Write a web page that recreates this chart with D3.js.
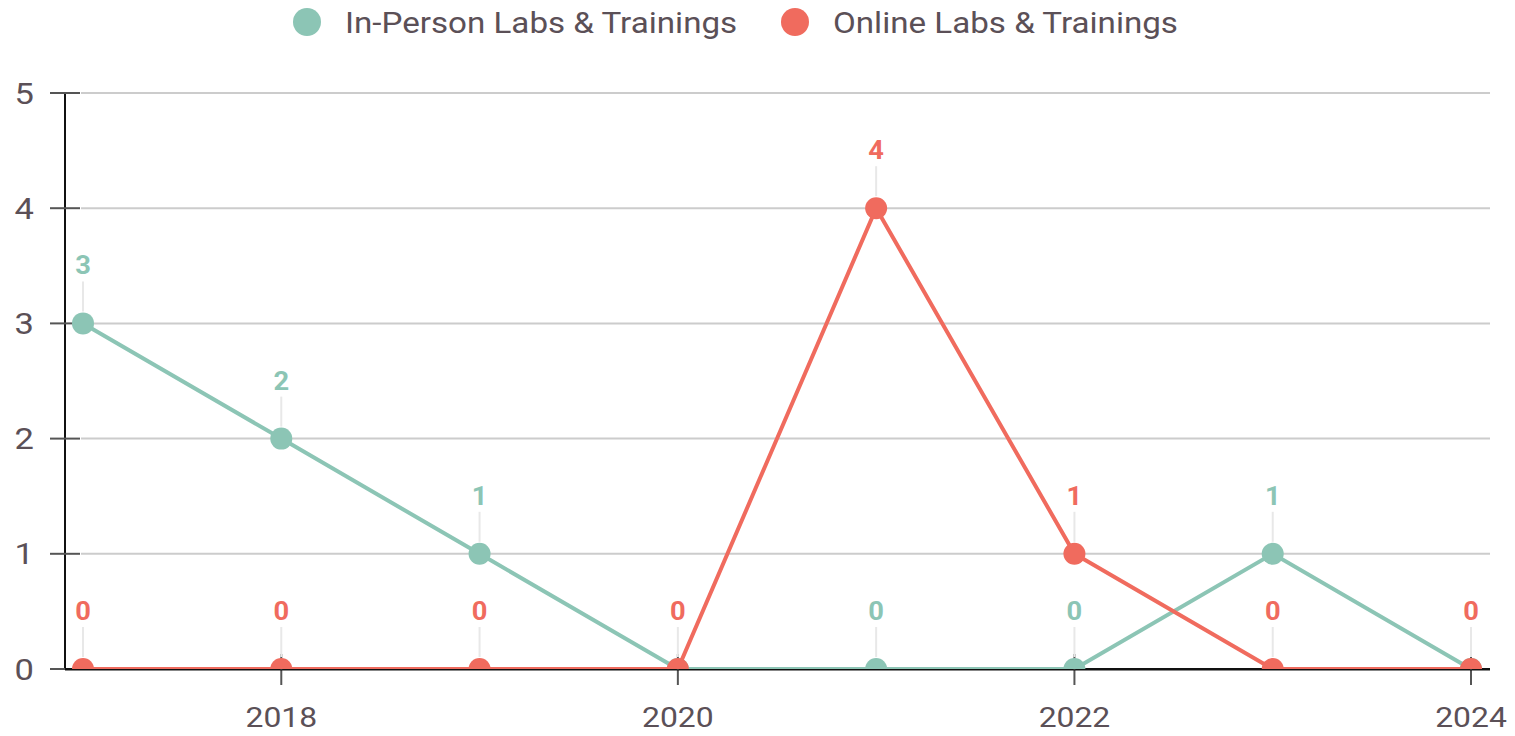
<!DOCTYPE html>
<html lang="en">
<head>
    <meta charset="UTF-8">
    <title>Labs & Trainings per year</title>
    <style>
        body { margin: 0; background: #fff; }
        svg text { font-family: Roboto, "Noto Sans", sans-serif; }
    </style>
</head>
<body>
    <div id="chart"></div>
    <script src="https://d3js.org/d3.v7.min.js"></script>
    <script>
        // data
        var years = [2017, 2018, 2019, 2020, 2021, 2022, 2023, 2024]
        var inPerson = [3, 2, 1, 0, 0, 0, 1, 0]
        var online = [0, 0, 0, 0, 4, 1, 0, 0]
        var seriesNames = ["In-Person Labs & Trainings", "Online Labs & Trainings"]
        var colors = ["#8cc5b5", "#f06b5e"]
        var xTicks = [2018, 2020, 2022, 2024]
        var yTicks = [0, 1, 2, 3, 4, 5]

        var W = 1515, H = 736

        var svg = d3.select("#chart").append("svg")
            .attr("width", W).attr("height", H)

        var x = d3.scaleLinear().domain([2017, 2024]).range([83, 1471])
        var y = d3.scaleLinear().domain([0, 5]).range([669, 93])
        var axisLeftX = 65, axisRightX = 1490

        // text that is a bit wider than the font (the original picture is stretched)
        function label(g, tx, ty, str, size, sx) {
            return g.append("text")
                .attr("transform", "translate(" + tx + "," + ty + ") scale(" + sx + ",1)")
                .attr("font-size", size).text(str)
        }

        // clip for points & lines (plot area)
        svg.append("clipPath").attr("id", "plot")
            .append("rect").attr("x", axisLeftX).attr("y", 60)
            .attr("width", axisRightX - axisLeftX).attr("height", y(0) - 60)

        // grid lines
        svg.append("g").selectAll("line").data(yTicks.filter(function (d) { return d > 0 }))
            .enter().append("line")
            .attr("x1", 81).attr("x2", axisRightX)
            .attr("y1", function (d) { return y(d) }).attr("y2", function (d) { return y(d) })
            .attr("stroke", "#cccccc").attr("stroke-width", 2)

        // y axis
        svg.append("line").attr("x1", axisLeftX).attr("x2", axisLeftX)
            .attr("y1", y(5)).attr("y2", y(0))
            .attr("stroke", "#111").attr("stroke-width", 2)
        var yg = svg.append("g")
        yTicks.forEach(function (d) {
            yg.append("line").attr("x1", 50).attr("x2", 80)
                .attr("y1", y(d)).attr("y2", y(d))
                .attr("stroke", "#555").attr("stroke-width", 2)
            label(yg, 34, y(d) + 10.5, d, 30, 1.15)
                .attr("text-anchor", "end").attr("fill", "#5b5057")
        })

        // x axis
        svg.append("line").attr("x1", axisLeftX).attr("x2", axisRightX)
            .attr("y1", y(0)).attr("y2", y(0))
            .attr("stroke", "#111").attr("stroke-width", 2)
        var xg = svg.append("g")
        xTicks.forEach(function (d) {
            xg.append("line").attr("x1", x(d)).attr("x2", x(d))
                .attr("y1", 654).attr("y2", 685)
                .attr("stroke", "#555").attr("stroke-width", 2)
            label(xg, x(d), 727, d, 27, 1.18)
                .attr("text-anchor", "middle").attr("fill", "#5b5057")
        })

        var series = [inPerson, online]
        var line = d3.line().x(function (d, i) { return x(years[i]) }).y(function (d) { return y(d) })

        // leader lines + labels (red wins where both are the same)
        series.forEach(function (vals, s) {
            var g = svg.append("g")
            vals.forEach(function (v, i) {
                if (s === 0 && online[i] === v) return
                var px = x(years[i]), py = y(v)
                g.append("line").attr("x1", px).attr("x2", px)
                    .attr("y1", py - 12).attr("y2", py - 42)
                    .attr("stroke", "#e8e8e8").attr("stroke-width", 2)
                label(g, px, py - 49, v, 26, 1.05)
                    .attr("text-anchor", "middle").attr("font-weight", "bold")
                    .attr("fill", colors[s])
            })
        })

        // lines and points
        series.forEach(function (vals, s) {
            var g = svg.append("g").attr("clip-path", "url(#plot)")
            g.append("path").datum(vals).attr("d", line)
                .attr("fill", "none").attr("stroke", colors[s]).attr("stroke-width", 4)
            g.selectAll("circle").data(vals).enter().append("circle")
                .attr("cx", function (d, i) { return x(years[i]) })
                .attr("cy", function (d) { return y(d) })
                .attr("r", 11).attr("fill", colors[s])
        })

        // redraw x axis line on top of clipped markers
        svg.append("line").attr("x1", axisLeftX).attr("x2", axisRightX)
            .attr("y1", y(0) + 1).attr("y2", y(0) + 1)
            .attr("stroke", "#111").attr("stroke-width", 1)

        // legend
        var legendX = [307, 795]
        var lg = svg.append("g")
        seriesNames.forEach(function (name, s) {
            lg.append("circle").attr("cx", legendX[s]).attr("cy", 22).attr("r", 14).attr("fill", colors[s])
            label(lg, legendX[s] + 38, 33, name, 30, 1.105).attr("fill", "#5b5057")
        })
    </script>
</body>
</html>
